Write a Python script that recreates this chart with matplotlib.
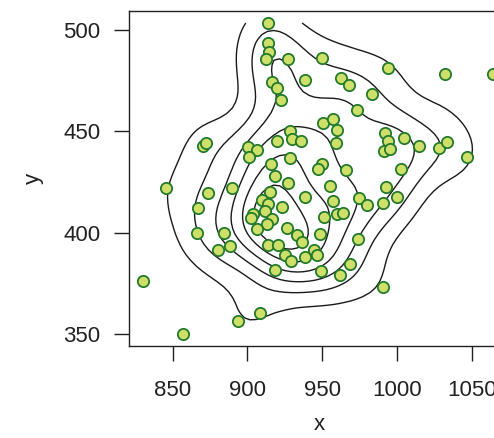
import numpy as np
import matplotlib
matplotlib.use("Agg")
from matplotlib import pyplot as plt

# point values
x = [913.7, 914.1, 914.7, 912.4, 927.1, 949.9, 916.4, 920.0, 922.4, 938.7,
     962.6, 967.7, 983.6, 973.5, 950.3, 957.0, 959.7, 959.0, 928.5, 930.0,
     935.6, 919.6, 900.4, 906.2, 901.4, 928.8, 915.6, 918.3, 949.7, 947.2,
     965.8, 994.2, 1032.1, 1064.4, 992.0, 993.8, 991.7, 995.4, 1004.9, 1014.9,
     1028.1, 1033.5, 1047.1, 1002.7, 870.5, 872.3, 845.5, 873.4, 889.5, 866.7,
     866.5, 884.5, 880.1, 888.5, 830.3, 893.5, 857.1, 927.3, 955.2, 915.4,
     938.5, 909.7, 957.0, 974.6, 979.8, 913.7, 922.9, 911.7, 903.9, 902.4,
     916.2, 951.5, 959.7, 964.1, 912.9, 906.2, 926.8, 932.9, 936.3, 948.9,
     974.1, 913.5, 920.6, 924.9, 929.3, 938.5, 944.4, 946.7, 918.2, 949.1,
     968.6, 962.2, 908.4, 992.5, 990.5, 1000.2, 990.5]
y = [503.5, 493.8, 489.2, 485.9, 485.7, 486.2, 474.6, 471.4, 465.5, 475.3,
     476.2, 472.9, 468.4, 460.8, 454.0, 456.3, 450.9, 444.4, 450.2, 446.1,
     445.3, 445.3, 442.2, 441.1, 437.5, 437.1, 433.8, 428.1, 433.9, 431.7,
     431.0, 481.4, 478.3, 478.2, 449.1, 445.3, 440.4, 441.2, 446.9, 442.8,
     442.0, 444.8, 437.4, 431.3, 443.0, 444.4, 422.2, 419.8, 422.2, 412.1,
     399.8, 400.1, 391.5, 393.5, 376.4, 356.5, 350.0, 424.8, 423.1, 420.4,
     417.8, 416.4, 415.5, 417.4, 413.7, 414.1, 412.8, 410.6, 409.3, 407.1,
     407.0, 407.6, 409.1, 410.0, 404.2, 401.7, 402.5, 398.9, 395.6, 399.5,
     396.9, 394.0, 394.0, 389.1, 386.1, 388.0, 391.7, 389.1, 381.8, 381.1,
     384.6, 379.4, 360.6, 422.7, 414.5, 417.8, 373.1]

xticks = [850, 900, 950, 1000, 1050]
yticks = [350, 400, 450, 500]

x = np.array(x)
y = np.array(y)


def bw(v):
    # same rule as MASS::bandwidth.nrd, divided by 4 like kde2d
    q1, q3 = np.percentile(v, [25, 75])
    h = min(np.std(v, ddof=1), (q3 - q1) / 1.34)
    return 1.06 * h * len(v) ** (-0.2)


# 2d kernel density on a grid over the data range
gx = np.linspace(x.min(), x.max(), 60)
gy = np.linspace(y.min(), y.max(), 60)
hx, hy = bw(x), bw(y)
kx = np.exp(-0.5 * ((gx[:, None] - x[None, :]) / hx) ** 2) / np.sqrt(2 * np.pi)
ky = np.exp(-0.5 * ((gy[:, None] - y[None, :]) / hy) ** 2) / np.sqrt(2 * np.pi)
z = kx @ ky.T / (len(x) * hx * hy)

step = 1.5e-5
levels = np.arange(step, z.max(), step)

plt.rcParams['font.family'] = ['Liberation Sans', 'DejaVu Sans']
fig = plt.figure(figsize=(4.94, 4.38), dpi=100)
ax = fig.add_axes([0.2617, 0.210, 0.7687, 0.7648])

ax.contour(gx, gy, z.T, levels=levels, colors='#1a1a1a', linewidths=1.0)
ax.scatter(x, y, s=66, facecolor='#cfe06a', edgecolor='#237a2a',
           linewidth=1.3, zorder=3, clip_on=False)

ax.set_xlim(821, 1075)
ax.set_ylim(344.2, 509.4)
ax.set_xticks(xticks)
ax.set_yticks(yticks)
ax.tick_params(direction='out', length=10.8, width=1, colors='#222222',
               labelsize=16, labelcolor='#222222')
ax.tick_params(axis='x', pad=14)
ax.tick_params(axis='y', pad=10)
for s in ['top', 'bottom', 'left', 'right']:
    ax.spines[s].set_color('#222222')
    ax.spines[s].set_linewidth(1)

ax.set_xlabel('x', fontsize=16, color='#222222', labelpad=9)
ax.set_ylabel('y', fontsize=16, color='#222222', labelpad=14)

fig.savefig('out.png', dpi=100)
